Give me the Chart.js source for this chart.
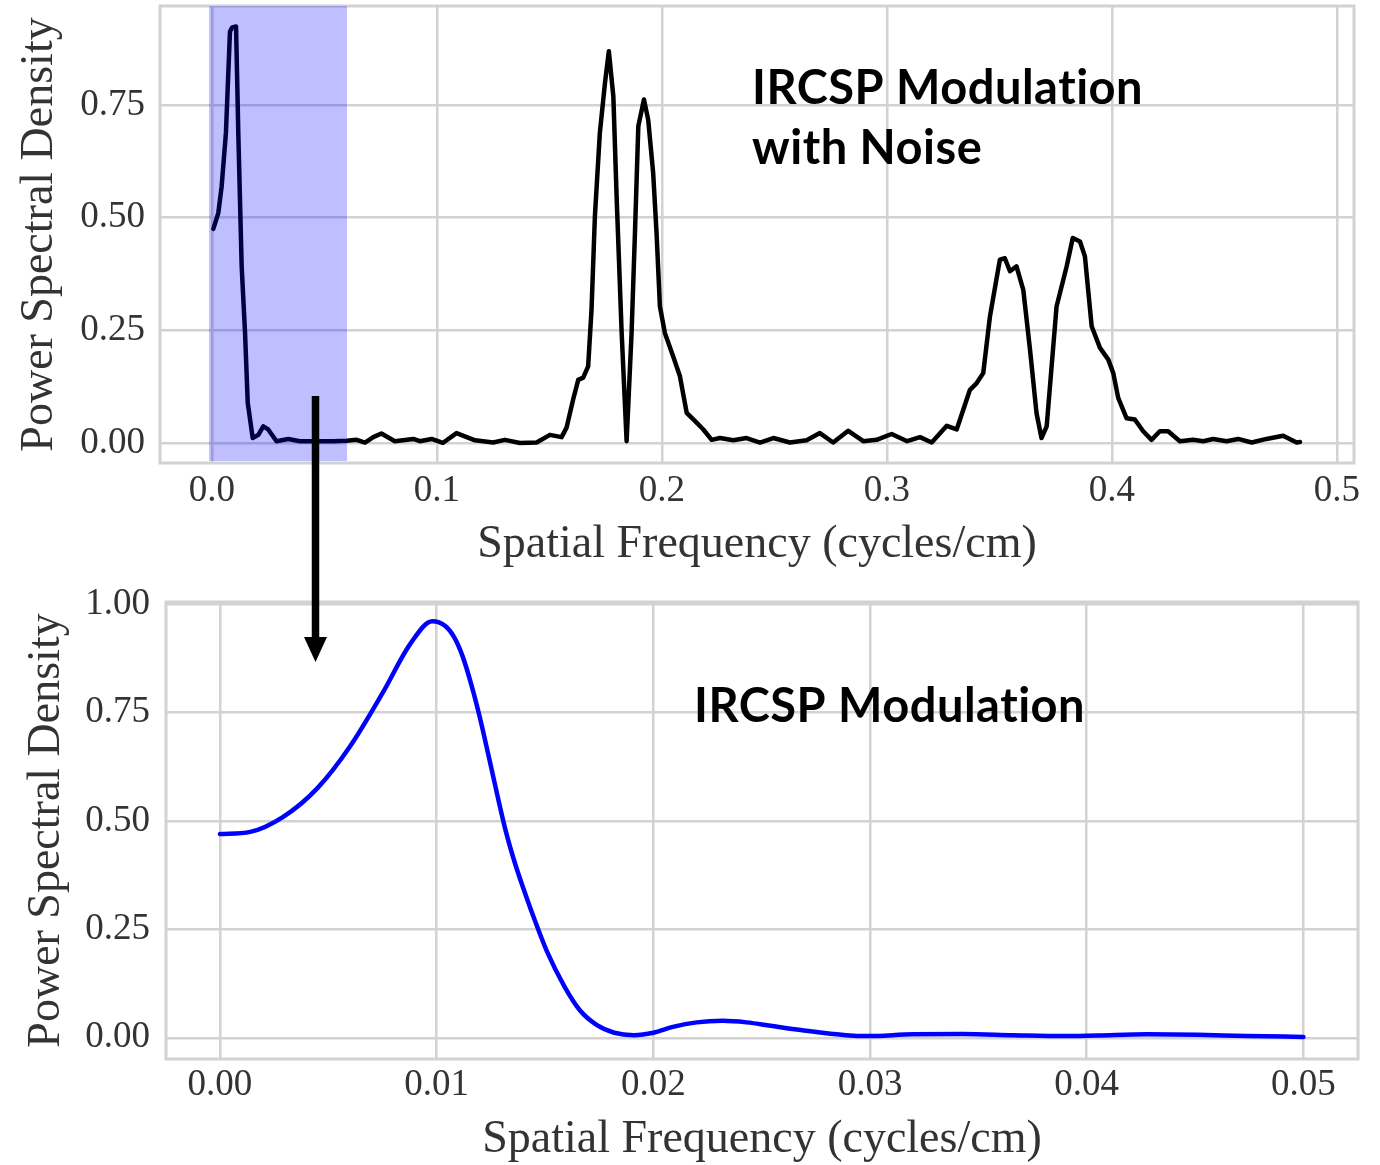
<!DOCTYPE html>
<html>
<head>
<meta charset="utf-8">
<title>IRCSP Modulation - Power Spectral Density</title>
<script src="https://cdn.jsdelivr.net/npm/chart.js@4.4.1/dist/chart.umd.min.js"></script>
<style>
  html, body { margin: 0; padding: 0; background: #fff; }
  body { width: 1380px; height: 1165px; position: relative; overflow: hidden; }
  .box { position: absolute; left: 0; width: 1380px; }
  #topBox { top: 0; height: 580px; }
  #zoomBox { top: 580px; height: 585px; }
  #overlay { position: absolute; left: 0; top: 0; pointer-events: none; }
</style>
</head>
<body>
<div class="box" id="topBox"><canvas id="topChart"></canvas></div>
<div class="box" id="zoomBox"><canvas id="zoomChart"></canvas></div>
<canvas id="overlay" width="1380" height="1165"></canvas>
<script>
// Top panel: full spectrum with noise (cycles/cm vs PSD)
const topFreq = [
    0.0006, 0.0028, 0.0043, 0.0062, 0.0080, 0.0090, 0.0107, 0.0117, 0.0132, 0.0147,
    0.0159, 0.0181, 0.0206, 0.0228, 0.0250, 0.0287, 0.0339, 0.0391, 0.0465, 0.0539,
    0.0599, 0.0643, 0.0680, 0.0717, 0.0753, 0.0813, 0.0895, 0.0924, 0.0976, 0.1026,
    0.1087, 0.1169, 0.1250, 0.1302, 0.1369, 0.1443, 0.1502, 0.1554, 0.1576, 0.1605,
    0.1628, 0.1650, 0.1672, 0.1687, 0.1702, 0.1724, 0.1747, 0.1764, 0.1784, 0.1799,
    0.1821, 0.1843, 0.1865, 0.1880, 0.1895, 0.1920, 0.1939, 0.1961, 0.1976, 0.1991,
    0.2013, 0.2050, 0.2080, 0.2110, 0.2154, 0.2184, 0.2221, 0.2258, 0.2317, 0.2376,
    0.2436, 0.2495, 0.2569, 0.2643, 0.2702, 0.2761, 0.2828, 0.2895, 0.2954, 0.3021,
    0.3090, 0.3147, 0.3199, 0.3266, 0.3310, 0.3369, 0.3399, 0.3428, 0.3458, 0.3502,
    0.3524, 0.3547, 0.3576, 0.3606, 0.3636, 0.3665, 0.3687, 0.3710, 0.3732, 0.3754,
    0.3799, 0.3826, 0.3858, 0.3880, 0.3910, 0.3947, 0.3984, 0.4006, 0.4028, 0.4065,
    0.4102, 0.4139, 0.4176, 0.4213, 0.4250, 0.4302, 0.4361, 0.4406, 0.4450, 0.4510,
    0.4561, 0.4621, 0.4687, 0.4761, 0.4821, 0.4836
];
const topPsd = [
    0.475, 0.510, 0.569, 0.688, 0.913, 0.922, 0.924, 0.688, 0.392, 0.244,
    0.089, 0.011, 0.018, 0.037, 0.030, 0.004, 0.009, 0.004, 0.004, 0.004,
    0.005, 0.007, 0.001, 0.013, 0.021, 0.004, 0.009, 0.004, 0.009, 0.000,
    0.022, 0.006, 0.001, 0.007, 0.000, 0.001, 0.018, 0.013, 0.034, 0.096,
    0.140, 0.145, 0.170, 0.296, 0.503, 0.688, 0.800, 0.869, 0.769, 0.540,
    0.244, 0.004, 0.244, 0.466, 0.703, 0.762, 0.717, 0.599, 0.466, 0.303,
    0.244, 0.192, 0.148, 0.067, 0.045, 0.030, 0.007, 0.011, 0.006, 0.011,
    0.001, 0.011, 0.001, 0.006, 0.022, 0.001, 0.027, 0.004, 0.007, 0.020,
    0.004, 0.013, 0.001, 0.038, 0.030, 0.118, 0.133, 0.155, 0.281, 0.407,
    0.410, 0.381, 0.392, 0.340, 0.207, 0.066, 0.011, 0.037, 0.170, 0.303,
    0.392, 0.455, 0.447, 0.414, 0.259, 0.211, 0.185, 0.155, 0.100, 0.055,
    0.052, 0.026, 0.007, 0.026, 0.026, 0.004, 0.007, 0.004, 0.009, 0.004,
    0.009, 0.001, 0.009, 0.016, 0.001, 0.002
];

// Bottom panel: zoom on the modulation peak
const zoomFreq = [
    0.0000, 0.0014, 0.0029, 0.0045, 0.0060, 0.0075, 0.0088, 0.0098, 0.0104, 0.0108,
    0.0112, 0.0116, 0.0120, 0.0124, 0.0128, 0.0132, 0.0136, 0.0140, 0.0145, 0.0151,
    0.0159, 0.0166, 0.0174, 0.0182, 0.0191, 0.0200, 0.0209, 0.0220, 0.0232, 0.0243,
    0.0255, 0.0268, 0.0289, 0.0299, 0.0320, 0.0343, 0.0366, 0.0389, 0.0405, 0.0428,
    0.0451, 0.0474, 0.0500
];
const zoomPsd = [
    0.470, 0.475, 0.509, 0.576, 0.672, 0.795, 0.910, 0.961, 0.950, 0.925,
    0.880, 0.815, 0.738, 0.650, 0.560, 0.475, 0.405, 0.345, 0.275, 0.198,
    0.118, 0.064, 0.029, 0.0115, 0.006, 0.0115, 0.025, 0.0355, 0.039, 0.0355,
    0.027, 0.018, 0.006, 0.004, 0.008, 0.0085, 0.006, 0.004, 0.0055, 0.008,
    0.007, 0.004, 0.002
];

// Tick labels
const topXTicks = [0.0, 0.1, 0.2, 0.3, 0.4, 0.5];
const topYTicks = [0.00, 0.25, 0.50, 0.75];
const zoomXTicks = [0.00, 0.01, 0.02, 0.03, 0.04, 0.05];
const zoomYTicks = [0.00, 0.25, 0.50, 0.75, 1.00];

// Highlighted frequency band in the top panel
const zoomBand = [-0.0013, 0.06];

const serif = "'Liberation Serif', 'Times New Roman', serif";
const textColor = '#333333';
const gridColor = '#d2d2d2';

function toPoints(xs, ys) {
    return xs.map((x, i) => ({ x: x, y: ys[i] }));
}

// grey box around the plot area, like seaborn whitegrid
const framePlugin = {
    id: 'frame',
    beforeDatasetsDraw(chart) {
        const a = chart.chartArea, ctx = chart.ctx;
        ctx.save();
        ctx.strokeStyle = gridColor;
        ctx.lineWidth = 3;
        ctx.strokeRect(a.left, a.top, a.right - a.left, a.bottom - a.top);
        ctx.restore();
    }
};

function labelPlugin(lines) {
    return {
        id: 'labels',
        afterDraw(chart) {
            const ctx = chart.ctx;
            ctx.save();
            ctx.fillStyle = '#000';
            ctx.font = "bold 47px Lato, 'Open Sans', sans-serif";
            ctx.letterSpacing = '0.5px'; // also stops the "ti" ligature
            ctx.textBaseline = 'alphabetic';
            ctx.textAlign = 'left';
            lines.forEach(l => ctx.fillText(l.text, l.x, l.y));
            ctx.restore();
        }
    };
}

const bandPlugin = {
    id: 'band',
    afterDatasetsDraw(chart) {
        const a = chart.chartArea, ctx = chart.ctx, xs = chart.scales.x;
        const x0 = xs.getPixelForValue(zoomBand[0]);
        const x1 = xs.getPixelForValue(zoomBand[1]);
        ctx.save();
        ctx.fillStyle = 'rgba(0, 0, 255, 0.25)';
        ctx.fillRect(x0, a.top, x1 - x0, a.bottom - 2 - a.top);
        ctx.restore();
    }
};

function makeChart(id, cfg) {
    return new Chart(document.getElementById(id), {
        type: 'line',
        data: {
            datasets: [{
                data: cfg.points,
                borderColor: cfg.color,
                borderWidth: 4.5,
                pointRadius: 0,
                fill: false,
                tension: cfg.smooth ? 0.4 : 0,
                cubicInterpolationMode: cfg.smooth ? 'monotone' : 'default',
                borderJoinStyle: 'round',
                borderCapStyle: 'round'
            }]
        },
        options: {
            responsive: true,
            maintainAspectRatio: false,
            animation: false,
            devicePixelRatio: 1,
            layout: { padding: cfg.padding },
            plugins: { legend: { display: false }, tooltip: { enabled: false } },
            scales: {
                x: {
                    type: 'linear',
                    min: cfg.xMin,
                    max: cfg.xMax,
                    afterFit: s => { s.height = cfg.xAxisHeight; },
                    afterBuildTicks: s => { s.ticks = cfg.xTicks.map(v => ({ value: v })); },
                    grid: { color: gridColor, lineWidth: 2.5, drawTicks: false },
                    border: { display: false },
                    ticks: {
                        padding: cfg.xTickPad,
                        color: textColor,
                        maxRotation: 0,
                        autoSkip: false,
                        font: { family: serif, size: 37, lineHeight: 1 },
                        callback: v => v.toFixed(cfg.xDigits)
                    },
                    title: {
                        display: true,
                        text: 'Spatial Frequency (cycles/cm)',
                        color: textColor,
                        padding: 0,
                        font: { family: serif, size: 46, lineHeight: 1 }
                    }
                },
                y: {
                    type: 'linear',
                    min: cfg.yMin,
                    max: cfg.yMax,
                    afterFit: s => {
                        s.width = cfg.yAxisWidth;
                        // labels sit well inside the plot, no need to pad the layout
                        s.paddingTop = 0;
                        s.paddingBottom = 0;
                    },
                    afterBuildTicks: s => { s.ticks = cfg.yTicks.map(v => ({ value: v })); },
                    grid: { color: gridColor, lineWidth: 2.5, drawTicks: false },
                    border: { display: false },
                    ticks: {
                        padding: cfg.yTickPad,
                        color: textColor,
                        font: { family: serif, size: 37, lineHeight: 1 },
                        callback: v => v.toFixed(2)
                    },
                    title: {
                        display: true,
                        text: 'Power Spectral Density',
                        color: textColor,
                        padding: { top: cfg.yTitlePad, bottom: 0 },
                        font: { family: serif, size: 46, lineHeight: 1 }
                    }
                }
            }
        },
        plugins: [framePlugin].concat(cfg.extra)
    });
}

makeChart('topChart', {
    points: toPoints(topFreq, topPsd),
    color: '#000000',
    smooth: false,
    padding: { left: 0, top: 6, right: 26, bottom: 12 },
    xMin: -0.0231, xMax: 0.5076,
    yMin: -0.0444, yMax: 0.9696,
    xTicks: topXTicks, yTicks: topYTicks, xDigits: 1,
    xAxisHeight: 105, yAxisWidth: 160,
    xTickPad: 10, yTickPad: 15, yTitlePad: 17,
    extra: [bandPlugin, labelPlugin([
        { text: 'IRCSP Modulation', x: 752, y: 104 },
        { text: 'with Noise', x: 752, y: 164 }
    ])]
});

makeChart('zoomChart', {
    points: toPoints(zoomFreq, zoomPsd),
    color: '#0000ff',
    smooth: true,
    padding: { left: 0, top: 22, right: 22, bottom: 2 },
    xMin: -0.00249, xMax: 0.05252,
    yMin: -0.049, yMax: 1.0055,
    xTicks: zoomXTicks, yTicks: zoomYTicks, xDigits: 2,
    xAxisHeight: 104, yAxisWidth: 166,
    xTickPad: 8, yTickPad: 16, yTitlePad: 24,
    extra: [labelPlugin([
        { text: 'IRCSP Modulation', x: 694, y: 142 }
    ])]
});

// Arrow linking the highlighted band to the zoomed panel
const octx = document.getElementById('overlay').getContext('2d');
octx.fillStyle = '#000';
octx.fillRect(311.75, 396, 7.5, 243);
octx.beginPath();
octx.moveTo(304, 637);
octx.lineTo(327, 637);
octx.lineTo(315.5, 662);
octx.closePath();
octx.fill();
</script>
</body>
</html>
